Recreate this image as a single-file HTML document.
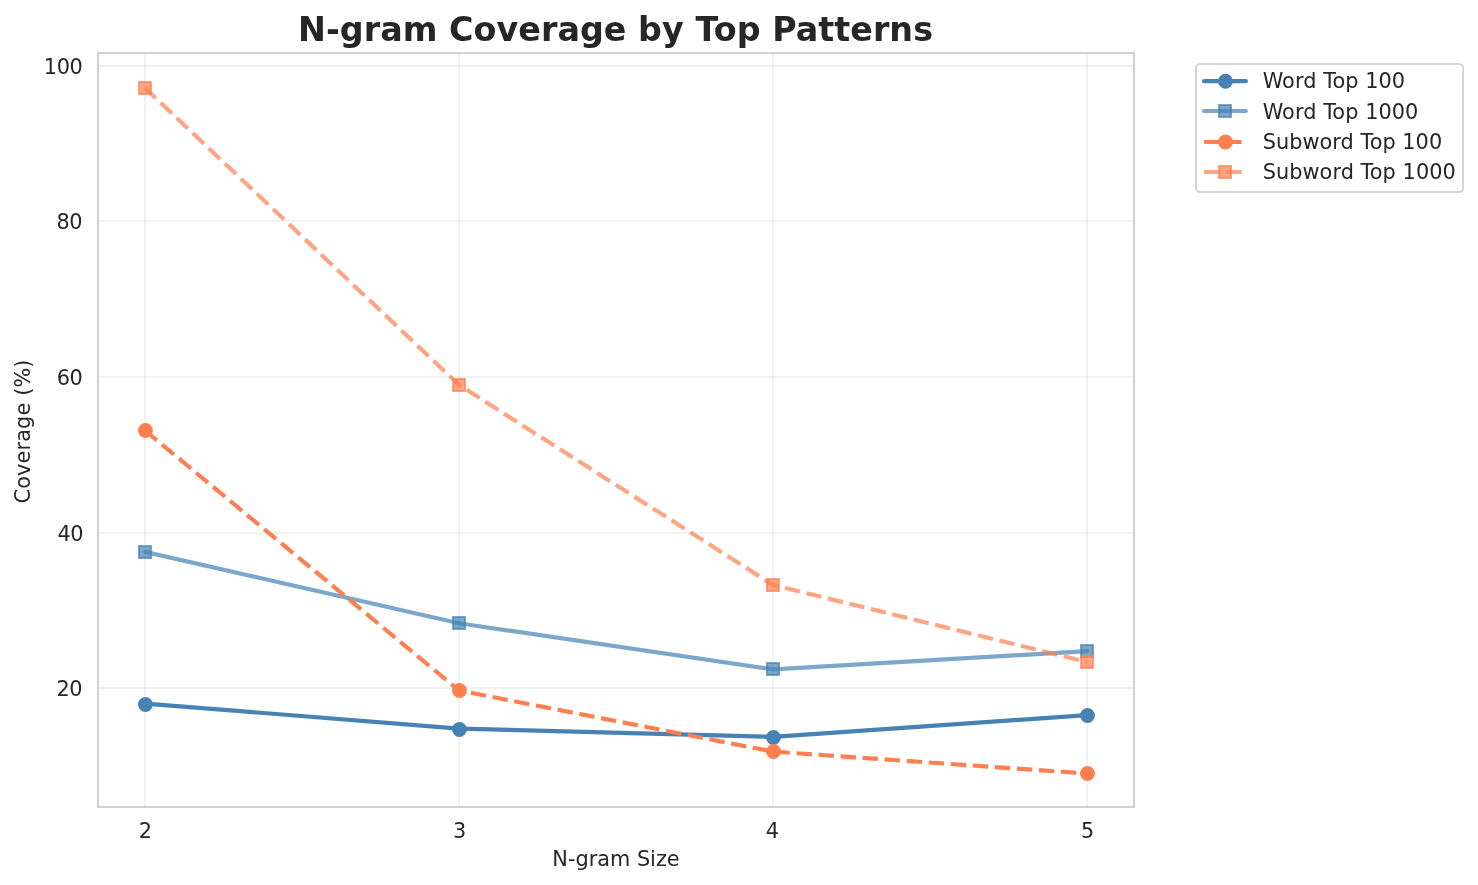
<!DOCTYPE html>
<html lang="en">
<head>
<meta charset="utf-8">
<title>N-gram Coverage by Top Patterns</title>
<style>
html,body{margin:0;padding:0;background:#ffffff;}
body{width:1478px;height:885px;overflow:hidden;}
svg{display:block;}
text{font-family:"DejaVu Sans", "Liberation Sans", sans-serif;fill:#262626;}
.t{font-size:20.83px;}
.title{font-size:33.33px;font-weight:bold;}
</style>
</head>
<body>
<svg width="1478" height="885" viewBox="0 0 1478 885">
<rect x="0" y="0" width="1478" height="885" fill="#ffffff"/>
<g stroke="#cccccc" stroke-opacity="0.27" stroke-width="2" fill="none">
<line x1="145.00" y1="53.00" x2="145.00" y2="807.00"/>
<line x1="459.00" y1="53.00" x2="459.00" y2="807.00"/>
<line x1="773.00" y1="53.00" x2="773.00" y2="807.00"/>
<line x1="1087.00" y1="53.00" x2="1087.00" y2="807.00"/>
<line x1="98.00" y1="688.00" x2="1134.00" y2="688.00"/>
<line x1="98.00" y1="533.00" x2="1134.00" y2="533.00"/>
<line x1="98.00" y1="377.00" x2="1134.00" y2="377.00"/>
<line x1="98.00" y1="221.00" x2="1134.00" y2="221.00"/>
<line x1="98.00" y1="66.00" x2="1134.00" y2="66.00"/>
</g>
<defs><clipPath id="ax"><rect x="98.0" y="53.0" width="1036.0" height="754.0"/></clipPath></defs>
<g clip-path="url(#ax)">
<polyline points="145.05,703.60 459.05,728.55 773.05,736.93 1087.05,715.10" fill="none" stroke="#4682b4" stroke-opacity="1.0" stroke-width="4.17" stroke-linecap="round" stroke-linejoin="round"/>
<circle cx="145.45" cy="704.50" r="6.40" fill="#4682b4" fill-opacity="1.0" stroke="#4682b4" stroke-opacity="1.0" stroke-width="2.08"/>
<circle cx="459.45" cy="729.50" r="6.40" fill="#4682b4" fill-opacity="1.0" stroke="#4682b4" stroke-opacity="1.0" stroke-width="2.08"/>
<circle cx="773.45" cy="737.50" r="6.40" fill="#4682b4" fill-opacity="1.0" stroke="#4682b4" stroke-opacity="1.0" stroke-width="2.08"/>
<circle cx="1087.45" cy="715.50" r="6.40" fill="#4682b4" fill-opacity="1.0" stroke="#4682b4" stroke-opacity="1.0" stroke-width="2.08"/>
<polyline points="145.05,551.87 459.05,623.30 773.05,669.35 1087.05,651.20" fill="none" stroke="#4682b4" stroke-opacity="0.7" stroke-width="4.17" stroke-linecap="round" stroke-linejoin="round"/>
<rect x="139.00" y="546.00" width="12.00" height="12.00" fill="#4682b4" fill-opacity="0.7" stroke="#4682b4" stroke-opacity="0.7" stroke-width="2.00"/>
<rect x="453.00" y="617.00" width="12.00" height="12.00" fill="#4682b4" fill-opacity="0.7" stroke="#4682b4" stroke-opacity="0.7" stroke-width="2.00"/>
<rect x="767.00" y="663.00" width="12.00" height="12.00" fill="#4682b4" fill-opacity="0.7" stroke="#4682b4" stroke-opacity="0.7" stroke-width="2.00"/>
<rect x="1081.00" y="645.00" width="12.00" height="12.00" fill="#4682b4" fill-opacity="0.7" stroke="#4682b4" stroke-opacity="0.7" stroke-width="2.00"/>
<polyline points="145.05,430.50 459.05,690.50 773.05,751.60 1087.05,773.50" fill="none" stroke="#ff7f50" stroke-opacity="1.0" stroke-width="4.17" stroke-dasharray="15.42 6.67" stroke-dashoffset="0" stroke-linecap="butt" stroke-linejoin="round"/>
<circle cx="145.45" cy="430.50" r="6.40" fill="#ff7f50" fill-opacity="1.0" stroke="#ff7f50" stroke-opacity="1.0" stroke-width="2.08"/>
<circle cx="459.45" cy="690.50" r="6.40" fill="#ff7f50" fill-opacity="1.0" stroke="#ff7f50" stroke-opacity="1.0" stroke-width="2.08"/>
<circle cx="773.45" cy="751.50" r="6.40" fill="#ff7f50" fill-opacity="1.0" stroke="#ff7f50" stroke-opacity="1.0" stroke-width="2.08"/>
<circle cx="1087.45" cy="773.50" r="6.40" fill="#ff7f50" fill-opacity="1.0" stroke="#ff7f50" stroke-opacity="1.0" stroke-width="2.08"/>
<polyline points="145.05,88.00 459.05,384.95 773.05,585.00 1087.05,662.00" fill="none" stroke="#ff7f50" stroke-opacity="0.7" stroke-width="4.17" stroke-dasharray="15.42 6.67" stroke-dashoffset="0.6" stroke-linecap="butt" stroke-linejoin="round"/>
<rect x="139.00" y="82.00" width="12.00" height="12.00" fill="#ff7f50" fill-opacity="0.7" stroke="#ff7f50" stroke-opacity="0.7" stroke-width="2.00"/>
<rect x="453.00" y="379.00" width="12.00" height="12.00" fill="#ff7f50" fill-opacity="0.7" stroke="#ff7f50" stroke-opacity="0.7" stroke-width="2.00"/>
<rect x="767.00" y="579.00" width="12.00" height="12.00" fill="#ff7f50" fill-opacity="0.7" stroke="#ff7f50" stroke-opacity="0.7" stroke-width="2.00"/>
<rect x="1081.00" y="656.00" width="12.00" height="12.00" fill="#ff7f50" fill-opacity="0.7" stroke="#ff7f50" stroke-opacity="0.7" stroke-width="2.00"/>
</g>
<rect x="98.0" y="53.0" width="1036.0" height="754.0" fill="none" stroke="#d1d1d1" stroke-width="2"/>
<text class="t" x="82.5" y="695.80" text-anchor="end" textLength="26.00" lengthAdjust="spacing">20</text>
<text class="t" x="83.4" y="540.80" text-anchor="end" textLength="26.00" lengthAdjust="spacing">40</text>
<text class="t" x="82.8" y="384.80" text-anchor="end" textLength="26.00" lengthAdjust="spacing">60</text>
<text class="t" x="82.5" y="228.80" text-anchor="end" textLength="26.00" lengthAdjust="spacing">80</text>
<text class="t" x="82.8" y="73.80" text-anchor="end" textLength="39.00" lengthAdjust="spacing">100</text>
<text class="t" x="145.40" y="838" text-anchor="middle">2</text>
<text class="t" x="459.60" y="838" text-anchor="middle">3</text>
<text class="t" x="772.50" y="838" text-anchor="middle">4</text>
<text class="t" x="1087.60" y="838" text-anchor="middle">5</text>
<text class="t" x="616" y="866" text-anchor="middle">N-gram Size</text>
<text class="t" transform="translate(30,503.5) rotate(-90)" textLength="144" lengthAdjust="spacing">Coverage (%)</text>
<text class="title" x="297.97" y="41.3" textLength="635" lengthAdjust="spacing">N-gram Coverage by Top Patterns</text>
<rect x="1196.00" y="64.00" width="267.00" height="128.00" rx="4.17" ry="4.17" fill="#ffffff" fill-opacity="0.8" stroke="#cccccc" stroke-opacity="0.85" stroke-width="2"/>
<line x1="1204.10" y1="81.20" x2="1245.80" y2="81.20" stroke="#4682b4" stroke-opacity="1.0" stroke-width="4.17" stroke-linecap="round"/>
<circle cx="1225.45" cy="81.20" r="6.40" fill="#4682b4" fill-opacity="1.0" stroke="#4682b4" stroke-opacity="1.0" stroke-width="2.08"/>
<text class="t" x="1262.67" y="88.10" textLength="142.40" lengthAdjust="spacing">Word Top 100</text>
<line x1="1204.10" y1="111.00" x2="1245.80" y2="111.00" stroke="#4682b4" stroke-opacity="0.7" stroke-width="4.17" stroke-linecap="round"/>
<rect x="1219.00" y="105.00" width="12.00" height="12.00" fill="#4682b4" fill-opacity="0.7" stroke="#4682b4" stroke-opacity="0.7" stroke-width="2.00"/>
<text class="t" x="1262.67" y="119.00" textLength="155.70" lengthAdjust="spacing">Word Top 1000</text>
<line x1="1204.10" y1="142.00" x2="1245.80" y2="142.00" stroke="#ff7f50" stroke-opacity="1.0" stroke-width="4.17" stroke-dasharray="15.42 6.67"/>
<circle cx="1225.45" cy="142.00" r="6.40" fill="#ff7f50" fill-opacity="1.0" stroke="#ff7f50" stroke-opacity="1.0" stroke-width="2.08"/>
<text class="t" x="1262.67" y="148.90" textLength="179.50" lengthAdjust="spacing">Subword Top 100</text>
<line x1="1204.10" y1="172.00" x2="1245.80" y2="172.00" stroke="#ff7f50" stroke-opacity="0.7" stroke-width="4.17" stroke-dasharray="15.42 6.67"/>
<rect x="1219.00" y="166.00" width="12.00" height="12.00" fill="#ff7f50" fill-opacity="0.7" stroke="#ff7f50" stroke-opacity="0.7" stroke-width="2.00"/>
<text class="t" x="1262.67" y="179.30" textLength="193.10" lengthAdjust="spacing">Subword Top 1000</text>
</svg>
</body>
</html>
